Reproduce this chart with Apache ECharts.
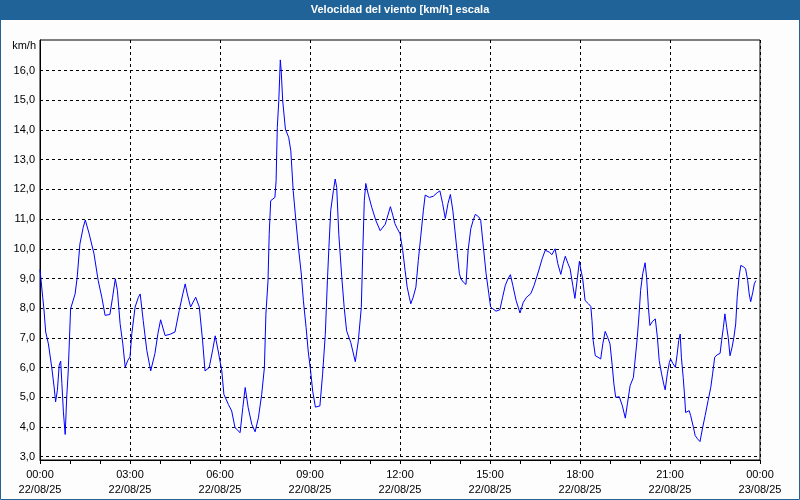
<!DOCTYPE html>
<html>
<head>
<meta charset="utf-8">
<script src="https://cdn.jsdelivr.net/npm/echarts@6/dist/echarts.min.js"></script>
<style>
html,body{margin:0;padding:0;background:#fcfdfc;}
#c{width:800px;height:500px;}
</style>
</head>
<body>
<div id="c"></div>
<script>
// Time of day in hours (22/08/25 00:00 = 0)
const hours = [
0.0,0.09,0.13,0.19,0.28,0.39,0.47,0.52,0.58,0.64,0.69,0.73,0.78,0.84,0.89,0.94,1.02,1.17,1.24,1.33,1.44,1.51,1.64,1.8,1.94,2.06,2.17,2.33,2.42,2.51,2.58,2.67,2.76,2.84,2.93,3.0,3.06,3.17,3.28,3.34,3.44,3.56,3.69,3.83,3.93,4.02,4.17,4.33,4.5,4.64,4.76,4.84,4.91,5.02,5.19,5.31,
5.42,5.5,5.64,5.76,5.84,5.94,6.06,6.13,6.28,6.39,6.5,6.67,6.76,6.84,6.94,7.06,7.17,7.28,7.39,7.48,7.53,7.6,7.64,7.69,7.83,7.87,7.91,7.96,8.01,8.04,8.09,8.18,8.29,8.36,8.44,8.53,8.62,8.71,8.78,8.87,8.94,9.02,9.09,9.18,9.33,9.42,9.51,9.58,9.63,9.69,9.78,9.84,9.89,9.96,10.06,10.14,10.22,10.36,10.51,10.61,10.71,10.76,10.81,10.86,10.94,11.06,11.2,11.34,11.51,11.68,
11.76,11.83,11.91,12.0,12.09,12.17,12.24,12.31,12.36,12.44,12.53,12.61,12.69,12.78,12.84,12.98,13.11,13.24,13.33,13.42,13.51,13.6,13.68,13.76,13.83,13.91,13.98,14.03,14.11,14.2,14.27,14.36,14.44,14.51,14.62,14.69,14.78,14.87,14.96,15.02,15.2,15.33,15.42,15.51,15.6,15.68,15.76,15.87,16.0,16.11,16.22,16.36,16.47,16.61,16.74,16.84,16.98,17.06,17.17,17.26,17.36,17.44,17.51,17.6,
17.67,17.76,17.83,17.91,17.98,18.03,18.09,18.17,18.28,18.36,18.4,18.44,18.51,18.6,18.69,18.76,18.84,18.93,19.0,19.08,19.13,19.19,19.31,19.41,19.51,19.58,19.67,19.78,19.84,19.91,19.97,20.02,20.09,20.17,20.22,20.28,20.33,20.42,20.51,20.58,20.64,20.72,20.79,20.84,20.91,20.98,21.02,21.09,21.18,21.24,21.29,21.34,21.38,21.44,21.49,21.52,21.64,21.69,21.78,21.84,21.92,22.0,22.09,22.17,22.27,22.36,22.42,22.49,22.57,22.67,22.72,22.78,22.83,22.89,22.94,23.0,23.07,23.13,23.19,23.24,23.3,23.36,23.44,23.52,23.59,23.64,23.69,23.76,23.81,23.86
];
// Wind speed, km/h
const speeds = [
9.3,8.37,7.98,7.2,6.8,6.02,5.35,4.85,5.24,6.08,6.22,5.46,4.51,3.75,5.0,5.85,7.98,8.48,9.04,10.16,10.72,10.97,10.5,9.83,8.93,8.37,7.76,7.79,8.37,8.99,8.6,7.48,6.8,6.02,6.25,6.36,7.14,8.04,8.37,8.48,7.59,6.58,5.89,6.47,7.14,7.61,7.08,7.12,7.2,7.92,8.48,8.82,8.48,8.04,8.37,8.04,
6.9,5.89,6.0,6.62,7.07,6.56,5.89,5.1,4.76,4.54,3.98,3.81,4.65,5.33,4.65,4.09,3.84,4.31,5.1,6.0,7.8,8.92,10.49,11.62,11.73,12.29,14.09,14.99,16.36,16.0,14.99,14.03,13.75,13.3,11.96,10.94,9.99,9.15,8.25,7.35,6.56,5.89,5.21,4.67,4.71,5.78,7.12,8.92,10.04,11.28,11.96,12.35,12.07,10.49,9.03,8.02,7.24,6.84,6.2,6.9,8.02,9.93,11.62,12.2,11.84,11.39,10.94,10.61,10.83,11.42,
11.13,10.85,10.68,10.51,9.95,9.27,8.71,8.37,8.15,8.37,8.71,9.61,10.4,11.3,11.81,11.73,11.77,11.89,11.95,11.53,11.02,11.53,11.83,11.3,10.63,9.84,9.16,8.99,8.88,8.8,9.95,10.68,10.96,11.16,11.08,10.96,10.06,9.16,8.49,8.04,7.9,7.95,8.37,8.77,8.99,9.13,8.77,8.26,7.84,8.2,8.37,8.49,8.77,9.22,9.67,9.95,9.89,9.8,10.0,9.5,9.14,9.5,9.75,9.5,
9.33,8.76,8.33,8.99,9.58,9.29,8.99,8.26,8.15,8.06,7.58,6.91,6.4,6.35,6.29,6.8,7.22,7.0,6.8,6.01,5.45,5.0,5.02,4.72,4.3,4.78,5.39,5.67,5.73,7.02,7.81,8.6,9.16,9.53,9.04,8.03,7.42,7.56,7.64,7.02,6.24,5.79,5.45,5.25,5.79,6.18,6.29,6.15,6.01,6.46,6.91,7.13,6.35,5.67,5.0,4.49,4.55,4.38,3.99,3.71,3.6,3.51,3.99,4.38,4.89,5.34,5.79,6.35,6.43,6.48,6.91,7.36,7.81,7.36,7.02,6.4,6.69,7.02,7.47,8.37,9.04,9.44,9.4,9.33,8.93,8.48,8.22,8.54,8.82,8.93
];
const xTickLabels = ["00:00\n22/08/25","03:00\n22/08/25","06:00\n22/08/25","09:00\n22/08/25","12:00\n22/08/25","15:00\n22/08/25","18:00\n22/08/25","21:00\n22/08/25","00:00\n23/08/25"];
const yTickValues = [3,4,5,6,7,8,9,10,11,12,13,14,15,16];
const titleText = "Velocidad del viento [km/h] escala";
const unitText = "km/h";

const chart = echarts.init(document.getElementById('c'), null, {renderer:'canvas'});
const font = 'Liberation Sans';
chart.setOption({
  animation:false,
  backgroundColor:'#fcfdfc',
  grid:{left:40,right:40,top:40,bottom:40,show:true,borderColor:'#000',borderWidth:1,backgroundColor:'transparent'},
  xAxis:{
    type:'value',min:0,max:24,interval:3,
    axisLine:{show:true,lineStyle:{color:'#000',width:1}},
    axisTick:{show:true,length:4,lineStyle:{color:'#000'}},
    minorTick:{show:true,splitNumber:3,length:4,lineStyle:{color:'#000'}},
    splitLine:{show:true,lineStyle:{color:'#000',type:[3,3],width:1}},
    axisLabel:{color:'#000',fontFamily:font,fontSize:11,lineHeight:15,margin:7,
      formatter:function(v){return xTickLabels[Math.round(v/3)];}}
  },
  yAxis:{
    type:'value',min:2.89,max:17.03,
    axisLine:{show:true,lineStyle:{color:'#000',width:1}},
    axisTick:{show:false,customValues:yTickValues},
    splitLine:{show:true,lineStyle:{color:'#000',type:[3,3],width:1}},
    axisLabel:{color:'#000',fontFamily:font,fontSize:11,margin:5,customValues:yTickValues,
      formatter:function(v){return v.toFixed(1).replace('.',',');}}
  },
  graphic:[
    {type:'rect',shape:{x:0,y:0,width:800,height:20},style:{fill:'#1f6399'},z:10},
    {type:'text',x:400,y:10,style:{text:titleText,fill:'#fff',font:'bold 11px "Liberation Sans"',textAlign:'center',textVerticalAlign:'middle'},z:11},
    {type:'text',x:36,y:46,style:{text:unitText,fill:'#000',font:'11px "Liberation Sans"',textAlign:'right',textVerticalAlign:'middle'},z:11},
    {type:'rect',shape:{x:0.5,y:0.5,width:799,height:499},style:{fill:'none',stroke:'#1f6399',lineWidth:1},z:12}
  ],
  series:[{
    type:'line',
    data:hours.map((h,i)=>[h,speeds[i]]),
    showSymbol:false,
    lineStyle:{color:'#0000ff',width:1},
    itemStyle:{color:'#0000ff'}
  }]
});
</script>
</body>
</html>
